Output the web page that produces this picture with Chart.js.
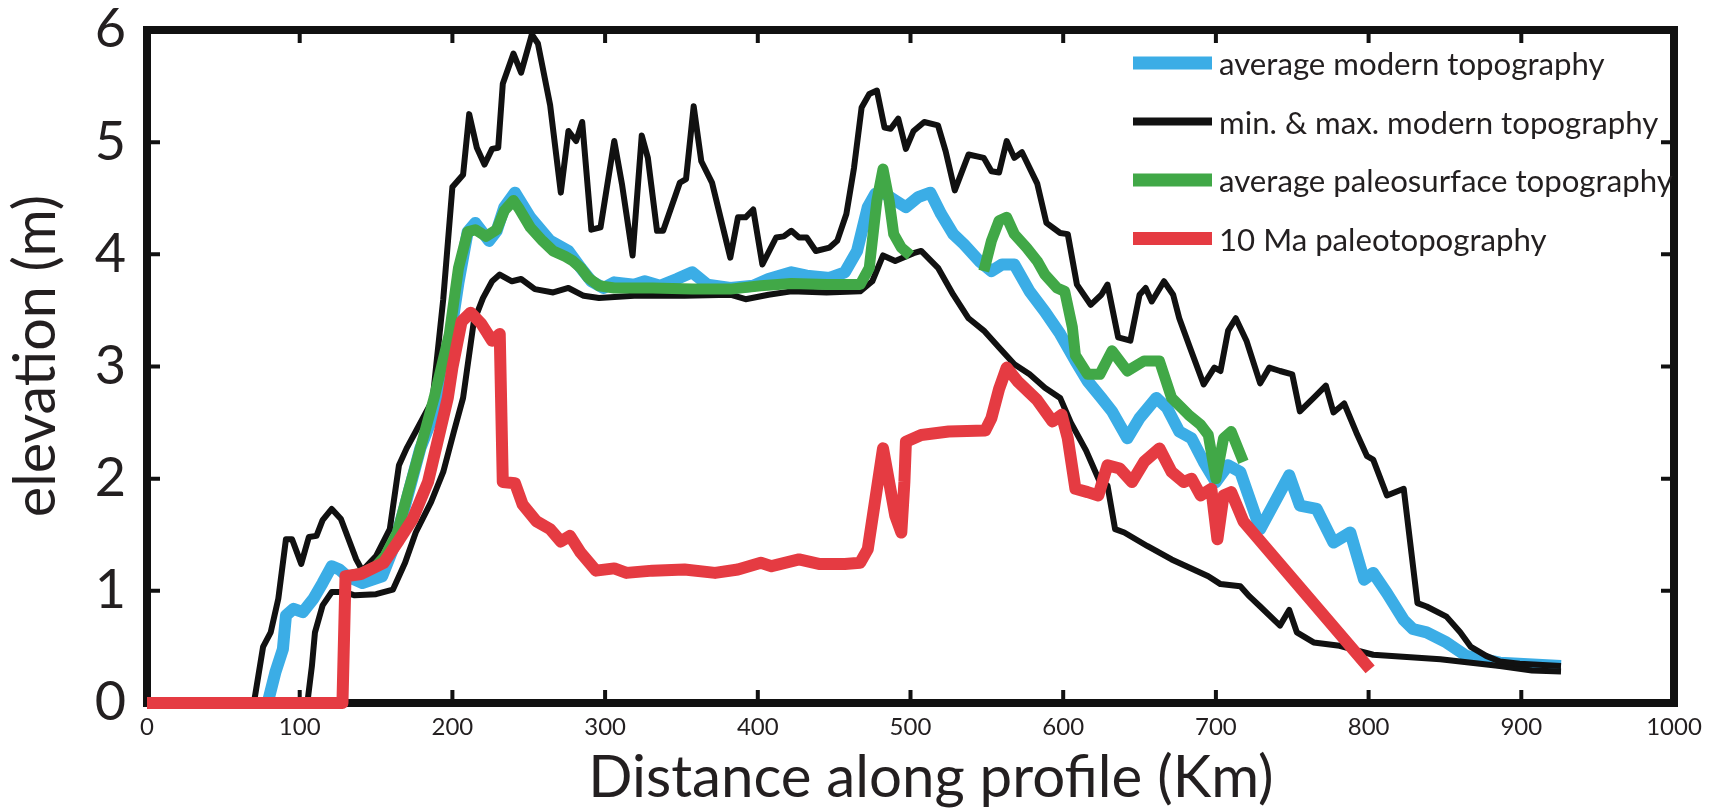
<!DOCTYPE html>
<html>
<head>
<meta charset="utf-8">
<script src="https://cdn.jsdelivr.net/npm/chart.js@4.4.0/dist/chart.umd.min.js"></script>
<style>
  html, body { margin: 0; padding: 0; background: #fff; }
</style>
</head>
<body>
<canvas id="profile" width="1727" height="808"></canvas>
<script>
// distances along the profile (km) and elevations
var maxKm = [70, 76, 81, 86, 91, 95, 101, 106, 111, 115, 121, 127, 137, 141, 150, 159, 165, 170, 176, 187, 194, 200, 207, 211, 216, 221, 226, 230, 233, 240, 245, 252, 256, 264, 271, 276, 281, 285, 291, 297, 306, 311, 318, 324, 328, 334, 338, 349, 353, 358, 363, 370, 382, 387, 392, 397, 403, 412, 417, 422, 427, 432, 438, 447, 452, 458, 463, 468, 473, 478, 483, 487, 492, 497, 502, 509, 518, 523, 529, 538, 548, 553, 558, 563, 568, 573, 583, 589, 598, 603, 609, 618, 625, 629, 636, 644, 650, 654, 658, 666, 672, 676, 683, 692, 699, 703, 708, 713, 720, 729, 735, 742, 750, 755, 764, 772, 777, 784, 792, 799, 803, 812, 823, 832, 838, 851, 860, 867, 877, 886, 899, 926];
var maxElev = [0, 0.5, 0.63, 0.93, 1.46, 1.46, 1.24, 1.48, 1.49, 1.63, 1.73, 1.64, 1.28, 1.18, 1.31, 1.55, 2.12, 2.27, 2.42, 2.7, 3.6, 4.6, 4.71, 5.25, 4.95, 4.8, 4.94, 4.95, 5.52, 5.79, 5.62, 5.96, 5.88, 5.33, 4.55, 5.1, 5.01, 5.18, 4.22, 4.24, 5.01, 4.63, 3.99, 5.06, 4.86, 4.21, 4.21, 4.64, 4.67, 5.32, 4.83, 4.64, 3.97, 4.33, 4.33, 4.4, 3.91, 4.15, 4.16, 4.21, 4.15, 4.15, 4.03, 4.06, 4.12, 4.36, 4.77, 5.31, 5.43, 5.46, 5.13, 5.12, 5.21, 4.94, 5.1, 5.18, 5.15, 4.92, 4.57, 4.89, 4.86, 4.74, 4.73, 5.01, 4.86, 4.91, 4.63, 4.28, 4.19, 4.18, 3.73, 3.55, 3.64, 3.73, 3.26, 3.23, 3.64, 3.7, 3.58, 3.76, 3.64, 3.43, 3.17, 2.84, 2.99, 2.96, 3.32, 3.43, 3.23, 2.85, 2.99, 2.96, 2.93, 2.6, 2.72, 2.83, 2.59, 2.67, 2.41, 2.2, 2.17, 1.85, 1.91, 0.89, 0.86, 0.77, 0.63, 0.5, 0.42, 0.37, 0.35, 0.33];

var minKm = [105, 108, 110, 115, 121, 129, 136, 150, 161, 169, 176, 186, 194, 201, 207, 214, 220, 226, 231, 239, 245, 254, 266, 276, 286, 296, 319, 352, 382, 392, 407, 422, 445, 467, 475, 482, 490, 495, 502, 507, 518, 528, 538, 548, 558, 568, 578, 588, 598, 605, 615, 624, 629, 634, 640, 655, 671, 695, 703, 716, 722, 729, 742, 748, 753, 764, 781, 803, 847, 886, 907, 926];
var minElev = [0, 0.33, 0.63, 0.87, 0.99, 0.99, 0.96, 0.97, 1.01, 1.25, 1.52, 1.79, 2.06, 2.42, 2.72, 3.4, 3.61, 3.76, 3.82, 3.76, 3.78, 3.69, 3.66, 3.7, 3.63, 3.61, 3.63, 3.63, 3.64, 3.6, 3.64, 3.67, 3.66, 3.67, 3.76, 3.99, 3.94, 3.97, 4.01, 4.03, 3.88, 3.64, 3.43, 3.32, 3.17, 3.02, 2.93, 2.81, 2.72, 2.5, 2.25, 1.97, 1.94, 1.55, 1.52, 1.4, 1.28, 1.13, 1.06, 1.04, 0.95, 0.86, 0.69, 0.83, 0.63, 0.54, 0.51, 0.43, 0.39, 0.33, 0.29, 0.28];

var avgKm = [79, 84, 89, 91, 96, 102, 109, 115, 121, 126, 131, 141, 154, 161, 169, 179, 192, 199, 204, 210, 215, 224, 229, 234, 241, 251, 264, 276, 284, 291, 299, 306, 319, 326, 336, 347, 357, 367, 382, 397, 407, 422, 432, 447, 457, 465, 472, 477, 482, 490, 497, 505, 513, 520, 528, 535, 545, 553, 560, 568, 578, 588, 598, 608, 616, 625, 632, 642, 650, 661, 668, 676, 684, 692, 700, 708, 716, 729, 748, 755, 766, 777, 788, 797, 803, 812, 823, 829, 838, 851, 864, 886, 926];
var avgElev = [0, 0.27, 0.48, 0.78, 0.84, 0.81, 0.93, 1.07, 1.22, 1.19, 1.13, 1.07, 1.13, 1.37, 1.76, 2.27, 2.72, 3.3, 3.75, 4.2, 4.28, 4.12, 4.21, 4.42, 4.55, 4.33, 4.12, 4.03, 3.88, 3.76, 3.7, 3.75, 3.73, 3.76, 3.72, 3.78, 3.84, 3.73, 3.7, 3.72, 3.78, 3.84, 3.81, 3.79, 3.84, 4.03, 4.42, 4.54, 4.55, 4.48, 4.42, 4.51, 4.55, 4.36, 4.18, 4.09, 3.94, 3.85, 3.91, 3.91, 3.67, 3.49, 3.29, 3.05, 2.87, 2.72, 2.6, 2.36, 2.54, 2.72, 2.63, 2.42, 2.36, 2.15, 1.97, 2.12, 2.06, 1.55, 2.03, 1.76, 1.73, 1.43, 1.52, 1.1, 1.16, 0.98, 0.74, 0.66, 0.63, 0.54, 0.42, 0.36, 0.33];

// paleosurface has a gap between ~500 and ~548 km (null = no data)
var paleoKm = [131, 141, 150, 156, 164, 171, 179, 188, 198, 204, 210, 215, 222, 229, 234, 240, 244, 251, 259, 266, 274, 279, 284, 289, 296, 306, 331, 357, 382, 402, 422, 445, 467, 473, 478, 482, 486, 489, 494, 500, 524, 548, 553, 558, 563, 568, 576, 583, 588, 596, 601, 606, 608, 616, 624, 632, 642, 653, 663, 671, 682, 690, 695, 700, 705, 710, 718];
var paleoElev = [1.13, 1.16, 1.22, 1.31, 1.52, 1.88, 2.27, 2.72, 3.29, 3.88, 4.2, 4.22, 4.16, 4.22, 4.39, 4.48, 4.4, 4.24, 4.12, 4.03, 3.98, 3.94, 3.88, 3.79, 3.72, 3.7, 3.7, 3.69, 3.69, 3.72, 3.74, 3.73, 3.73, 3.88, 4.48, 4.76, 4.48, 4.18, 4.06, 3.99, null, 3.85, 4.12, 4.3, 4.33, 4.18, 4.06, 3.94, 3.82, 3.7, 3.67, 3.35, 3.1, 2.93, 2.93, 3.14, 2.96, 3.05, 3.05, 2.72, 2.57, 2.48, 2.39, 2.0, 2.36, 2.42, 2.15];

var maKm = [0, 128, 130, 140, 155, 165, 174, 184, 197, 200, 206, 212, 219, 226, 231, 233, 241, 246, 255, 264, 271, 277, 284, 294, 306, 314, 331, 352, 372, 387, 402, 409, 427, 440, 457, 467, 472, 477, 482, 486, 490, 494, 496, 497, 507, 525, 549, 553, 558, 563, 570, 583, 593, 599, 603, 608, 616, 623, 629, 637, 645, 653, 663, 671, 679, 684, 690, 697, 701, 705, 710, 718, 801];
var maElev = [0, 0, 1.13, 1.15, 1.25, 1.45, 1.64, 1.97, 2.72, 2.99, 3.4, 3.48, 3.38, 3.23, 3.29, 1.97, 1.96, 1.77, 1.62, 1.55, 1.44, 1.49, 1.34, 1.18, 1.2, 1.16, 1.18, 1.19, 1.16, 1.19, 1.25, 1.22, 1.28, 1.24, 1.24, 1.25, 1.37, 1.82, 2.27, 1.97, 1.67, 1.52, 1.97, 2.33, 2.39, 2.42, 2.43, 2.54, 2.8, 2.99, 2.87, 2.7, 2.51, 2.57, 2.36, 1.91, 1.88, 1.85, 2.12, 2.09, 1.97, 2.15, 2.27, 2.06, 1.97, 2.0, 1.85, 1.91, 1.46, 1.85, 1.88, 1.62, 0.3];

var xTickValues = [0, 100, 200, 300, 400, 500, 600, 700, 800, 900, 1000];
var yTickValues = [0, 1, 2, 3, 4, 5, 6];
var xTitle = 'Distance along profile (Km)';
var yTitle = 'elevation (m)';

function pts(xs, ys) {
  return xs.map(function (x, i) { return { x: x, y: ys[i] }; });
}

var textColor = '#231f20';
var fontFamily = 'Lato, "Open Sans", sans-serif';

// pick a font size so a text gets about the width it has in the figure
var measureCtx = document.createElement('canvas').getContext('2d');
function fitSize(text, width) {
  measureCtx.font = '100px ' + fontFamily;
  return Math.round(100 * width / measureCtx.measureText(text).width * 10) / 10;
}
var xTitleSize = fitSize(xTitle, 685);
var yTitleSize = fitSize(yTitle, 322);
var legendSize = fitSize('average modern topography', 386);

// frame with inward tick marks, drawn under the lines
var framePlugin = {
  id: 'frame',
  beforeDatasetsDraw: function (chart) {
    var a = chart.chartArea, ctx = chart.ctx;
    var sx = chart.scales.x, sy = chart.scales.y;
    ctx.save();
    ctx.strokeStyle = '#111';
    ctx.lineWidth = 4;
    ctx.beginPath();
    xTickValues.slice(1, -1).forEach(function (v) {
      var px = sx.getPixelForValue(v);
      ctx.moveTo(px, a.bottom); ctx.lineTo(px, a.bottom - 13);
      ctx.moveTo(px, a.top); ctx.lineTo(px, a.top + 13);
    });
    yTickValues.slice(1, -1).forEach(function (v) {
      var py = sy.getPixelForValue(v);
      ctx.moveTo(a.left, py); ctx.lineTo(a.left + 13, py);
      ctx.moveTo(a.right, py); ctx.lineTo(a.right - 13, py);
    });
    ctx.stroke();
    ctx.lineWidth = 8;
    ctx.strokeRect(a.left, a.top, a.right - a.left, a.bottom - a.top);
    ctx.restore();
  }
};

// axis titles sit a little off centre in the figure, so place them by hand
var titlePlugin = {
  id: 'axisTitles',
  afterDraw: function (chart) {
    var ctx = chart.ctx;
    ctx.save();
    ctx.fillStyle = textColor;
    ctx.textAlign = 'center';
    ctx.textBaseline = 'alphabetic';
    ctx.font = xTitleSize + 'px ' + fontFamily;
    ctx.fillText(xTitle, 931, 797);
    ctx.translate(55, 356);
    ctx.rotate(-Math.PI / 2);
    ctx.font = yTitleSize + 'px ' + fontFamily;
    ctx.fillText(yTitle, 0, 0);
    ctx.restore();
  }
};

// legend in the top right corner of the plot
var legendRows = [4, 2, 1, 0];
var legendPlugin = {
  id: 'cornerLegend',
  afterDraw: function (chart) {
    var ctx = chart.ctx;
    ctx.save();
    ctx.font = legendSize + 'px ' + fontFamily;
    ctx.textBaseline = 'middle';
    ctx.fillStyle = textColor;
    legendRows.forEach(function (di, i) {
      var ds = chart.data.datasets[di];
      var y = 63 + i * 58.5;
      ctx.strokeStyle = ds.borderColor;
      ctx.lineWidth = ds.borderColor === '#111111' ? 8 : 13;
      ctx.beginPath();
      ctx.moveTo(1133, y); ctx.lineTo(1212, y);
      ctx.stroke();
      ctx.fillText(ds.label, 1219, y + 2);
    });
    ctx.restore();
  }
};

function line(label, xs, ys, color, width) {
  return {
    label: label,
    data: pts(xs, ys),
    borderColor: color,
    borderWidth: width,
    pointRadius: 0,
    tension: 0,
    fill: false,
    clip: false,
    spanGaps: false,
    borderJoinStyle: 'round'
  };
}

// first dataset is drawn on top
new Chart(document.getElementById('profile'), {
  type: 'line',
  data: {
    datasets: [
      line('10 Ma paleotopography', maKm, maElev, '#e53b42', 12),
      line('average paleosurface topography', paleoKm, paleoElev, '#41a847', 11),
      line('min. & max. modern topography', maxKm, maxElev, '#111111', 6),
      line('min. modern topography', minKm, minElev, '#111111', 6),
      line('average modern topography', avgKm, avgElev, '#3badE6', 12)
    ]
  },
  options: {
    responsive: false,
    devicePixelRatio: 1,
    animation: false,
    layout: { padding: { top: 30, right: 53, bottom: 0, left: 0 } },
    plugins: { legend: { display: false }, tooltip: { enabled: false } },
    scales: {
      x: {
        type: 'linear',
        min: 0,
        max: 1000,
        grid: { display: false, drawTicks: false },
        border: { display: false },
        afterFit: function (s) { s.height = 105; },
        afterBuildTicks: function (s) { s.ticks = xTickValues.map(function (v) { return { value: v }; }); },
        ticks: {
          color: textColor,
          padding: 12,
          font: { family: fontFamily, size: 24, lineHeight: 1 },
          maxRotation: 0,
          callback: function (v) { return String(v); }
        },
        title: { display: false }
      },
      y: {
        min: 0,
        max: 6,
        grid: { display: false, drawTicks: false },
        border: { display: false },
        afterFit: function (s) { s.width = 147; },
        afterBuildTicks: function (s) { s.ticks = yTickValues.map(function (v) { return { value: v }; }); },
        ticks: {
          color: textColor,
          padding: 21,
          font: { family: fontFamily, size: 54, lineHeight: 0.1 },
          callback: function (v) { return String(v); }
        },
        title: { display: false }
      }
    }
  },
  plugins: [framePlugin, titlePlugin, legendPlugin]
});
</script>
</body>
</html>
